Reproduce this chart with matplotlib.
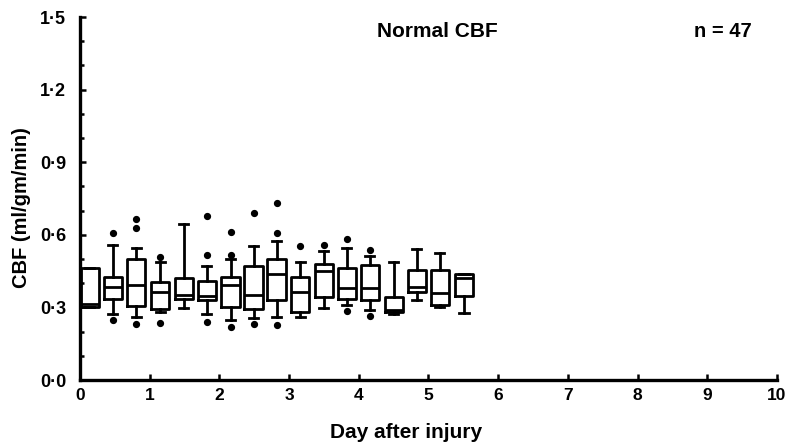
import matplotlib
matplotlib.use("Agg")
from matplotlib import pyplot as plt
from matplotlib.ticker import MultipleLocator, FuncFormatter

plt.rcParams['font.family'] = ['Liberation Sans', 'DejaVu Sans']
plt.rcParams['font.weight'] = 'bold'

# day of each box (about every 8 hours)
days = [0.14, 0.47, 0.81, 1.15, 1.49, 1.82, 2.16, 2.49, 2.82,
        3.16, 3.50, 3.83, 4.16, 4.50, 4.83, 5.16, 5.51]
q1 = [0.300, 0.334, 0.306, 0.295, 0.336, 0.332, 0.302, 0.293, 0.332,
      0.281, 0.343, 0.336, 0.332, 0.281, 0.364, 0.309, 0.346]
median = [0.315, 0.385, 0.394, 0.364, 0.350, 0.346, 0.394, 0.350, 0.440,
          0.364, 0.449, 0.381, 0.381, 0.288, 0.385, 0.360, 0.423]
q3 = [0.465, 0.426, 0.499, 0.405, 0.423, 0.409, 0.428, 0.470, 0.499,
      0.428, 0.478, 0.464, 0.474, 0.343, 0.453, 0.453, 0.440]
whisk_lo = [0.300, 0.275, 0.261, 0.281, 0.298, 0.275, 0.250, 0.255, 0.261,
            0.261, 0.298, 0.309, 0.291, 0.275, 0.330, 0.300, 0.279]
whisk_hi = [0.465, 0.560, 0.547, 0.487, 0.643, 0.470, 0.499, 0.552, 0.573,
            0.490, 0.532, 0.547, 0.511, 0.490, 0.542, 0.526, 0.440]
outliers = [[], [0.607, 0.250], [0.629, 0.667, 0.233], [0.508, 0.236], [],
            [0.518, 0.680, 0.240], [0.518, 0.612, 0.220], [0.689, 0.233],
            [0.608, 0.730, 0.227], [0.553], [0.560], [0.582, 0.286],
            [0.536, 0.266], [], [], [], []]

stats = []
for i in range(len(days)):
    stats.append({'q1': q1[i], 'med': median[i], 'q3': q3[i],
                  'whislo': whisk_lo[i], 'whishi': whisk_hi[i],
                  'fliers': outliers[i]})

fig = plt.figure(figsize=(7.88, 4.43), dpi=100)
ax = fig.add_axes([0.1015, 0.142, 0.8845, 0.8195])

lw = 2.0
ax.bxp(stats, positions=days, widths=0.26, showfliers=True,
       boxprops=dict(color='black', linewidth=lw),
       medianprops=dict(color='black', linewidth=lw),
       whiskerprops=dict(color='black', linewidth=lw),
       capprops=dict(color='black', linewidth=lw),
       capwidths=0.13,
       flierprops=dict(marker='o', markerfacecolor='black',
                       markeredgecolor='black', markersize=4.2))

ax.set_xlim(0, 10)
ax.set_ylim(0, 1.5)
ax.xaxis.set_major_locator(MultipleLocator(1))
ax.yaxis.set_major_locator(MultipleLocator(0.3))
ax.yaxis.set_minor_locator(MultipleLocator(0.1))
ax.xaxis.set_major_formatter(FuncFormatter(lambda v, p: '%d' % v))
ax.yaxis.set_major_formatter(
    FuncFormatter(lambda v, p: ('%.1f' % v).replace('.', '\u00b7')))

for s in ['top', 'right']:
    ax.spines[s].set_visible(False)
for s in ['left', 'bottom']:
    ax.spines[s].set_linewidth(2.4)

ax.tick_params(axis='both', which='both', direction='in', width=1.8,
               labelsize=13, colors='black')
ax.tick_params(axis='x', length=4, pad=6, labelsize=12.5)
ax.tick_params(axis='y', which='major', length=4, pad=10)
ax.tick_params(axis='y', which='minor', length=3)

ax.set_xlabel('Day after injury', fontsize=15, fontweight='bold')
ax.set_ylabel('CBF (ml/gm/min)', fontsize=14.5, fontweight='bold')
ax.xaxis.set_label_coords(0.468, -0.118)
ax.yaxis.set_label_coords(-0.07, 0.475)

ax.text(5.13, 1.44, 'Normal CBF', fontsize=15, fontweight='bold',
        ha='center', va='center')
ax.text(9.23, 1.44, 'n = 47', fontsize=14.5, fontweight='bold',
        ha='center', va='center')

fig.savefig('out.png', dpi=100)
